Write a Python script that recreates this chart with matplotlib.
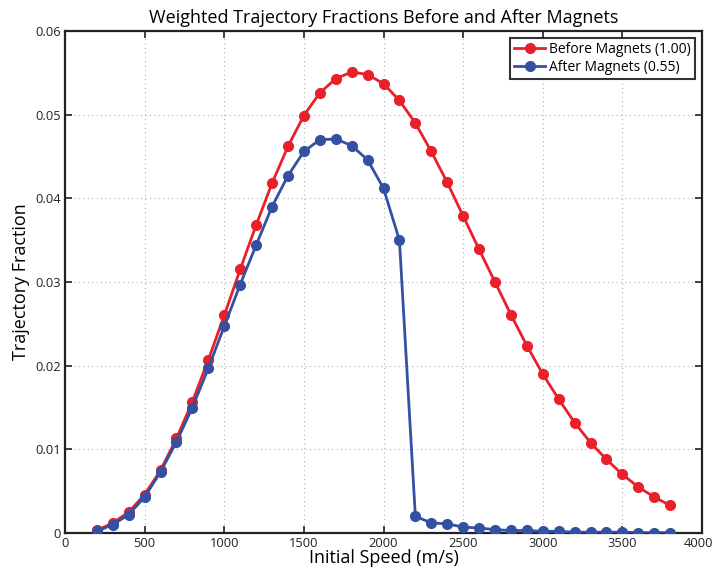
import matplotlib
matplotlib.use("Agg")
import matplotlib.pyplot as plt
import matplotlib.transforms as mtransforms

speed = list(range(200, 3900, 100))
before = [0.0003, 0.0012, 0.0025, 0.0046, 0.0075, 0.0113, 0.0157, 0.0207, 0.0260, 0.0315,
          0.0368, 0.0418, 0.0462, 0.0499, 0.0526, 0.0543, 0.0551, 0.0548, 0.0537, 0.0517,
          0.0490, 0.0456, 0.0419, 0.0379, 0.0339, 0.0300, 0.0261, 0.0224, 0.0190, 0.0160,
          0.0132, 0.0108, 0.0088, 0.0070, 0.0055, 0.0043, 0.0033]
after = [0.0002, 0.0010, 0.0022, 0.0043, 0.0073, 0.0109, 0.0150, 0.0197, 0.0247, 0.0297,
         0.0344, 0.0390, 0.0427, 0.0456, 0.0470, 0.0471, 0.0463, 0.0446, 0.0412, 0.0350,
         0.0020, 0.0012, 0.0011, 0.0007, 0.0006, 0.0004, 0.0003, 0.0003, 0.0002, 0.0002,
         0.0001, 0.0001, 0.0001, 0.0001, 0.00005, 0.00005, 0.00005]
labels = ["Before Magnets (1.00)", "After Magnets (0.55)"]
xticks = [0, 500, 1000, 1500, 2000, 2500, 3000, 3500, 4000]
yticks = [0, 0.01, 0.02, 0.03, 0.04, 0.05, 0.06]

plt.rcParams['font.family'] = ['Open Sans', 'DejaVu Sans']

fig = plt.figure(figsize=(7.16, 5.77), dpi=100)
ax = fig.add_axes([65/716, 44/577, 637/716, 502/577])

red = '#E8202A'
blue = '#3350A2'
ax.plot(speed, before, '-o', color=red, lw=2, ms=7, label=labels[0], zorder=3)
ax.plot(speed, after, '-o', color=blue, lw=2, ms=7, label=labels[1], zorder=4)

ax.set_xlim(0, 4000)
ax.set_ylim(0, 0.06)
ax.set_xticks(xticks)
ax.set_yticks(yticks)
ax.set_xticklabels([str(v) for v in xticks])
ax.set_yticklabels(['0'] + [f"{v:.2f}" for v in yticks[1:]])
ax.grid(True, linestyle=(0, (1, 3)), color='#b0b0b0', linewidth=0.8)
ax.tick_params(direction='in', top=True, right=True, labelsize=9.3, length=5, width=1.2,
               colors='#222222', pad=3)
for s in ax.spines.values():
    s.set_linewidth(1.6)
    s.set_color('#222222')

# nudge the last x tick label left so it stays inside the figure
last = ax.get_xticklabels()[-1]
last.set_transform(last.get_transform() + mtransforms.ScaledTranslation(-4/100, 0, fig.dpi_scale_trans))

ax.set_title("Weighted Trajectory Fractions Before and After Magnets", fontsize=13, pad=6)
ax.set_xlabel("Initial Speed (m/s)", fontsize=13, labelpad=-1)
ax.set_ylabel("Trajectory Fraction", fontsize=13, labelpad=4)

leg = ax.legend(loc='upper right', fontsize=10, frameon=True, fancybox=False,
                edgecolor='black', borderpad=0.3, labelspacing=0.2, handlelength=2.2,
                handletextpad=0.3, borderaxespad=0.5)
leg.get_frame().set_linewidth(1.5)

fig.savefig("out.png", dpi=100)
